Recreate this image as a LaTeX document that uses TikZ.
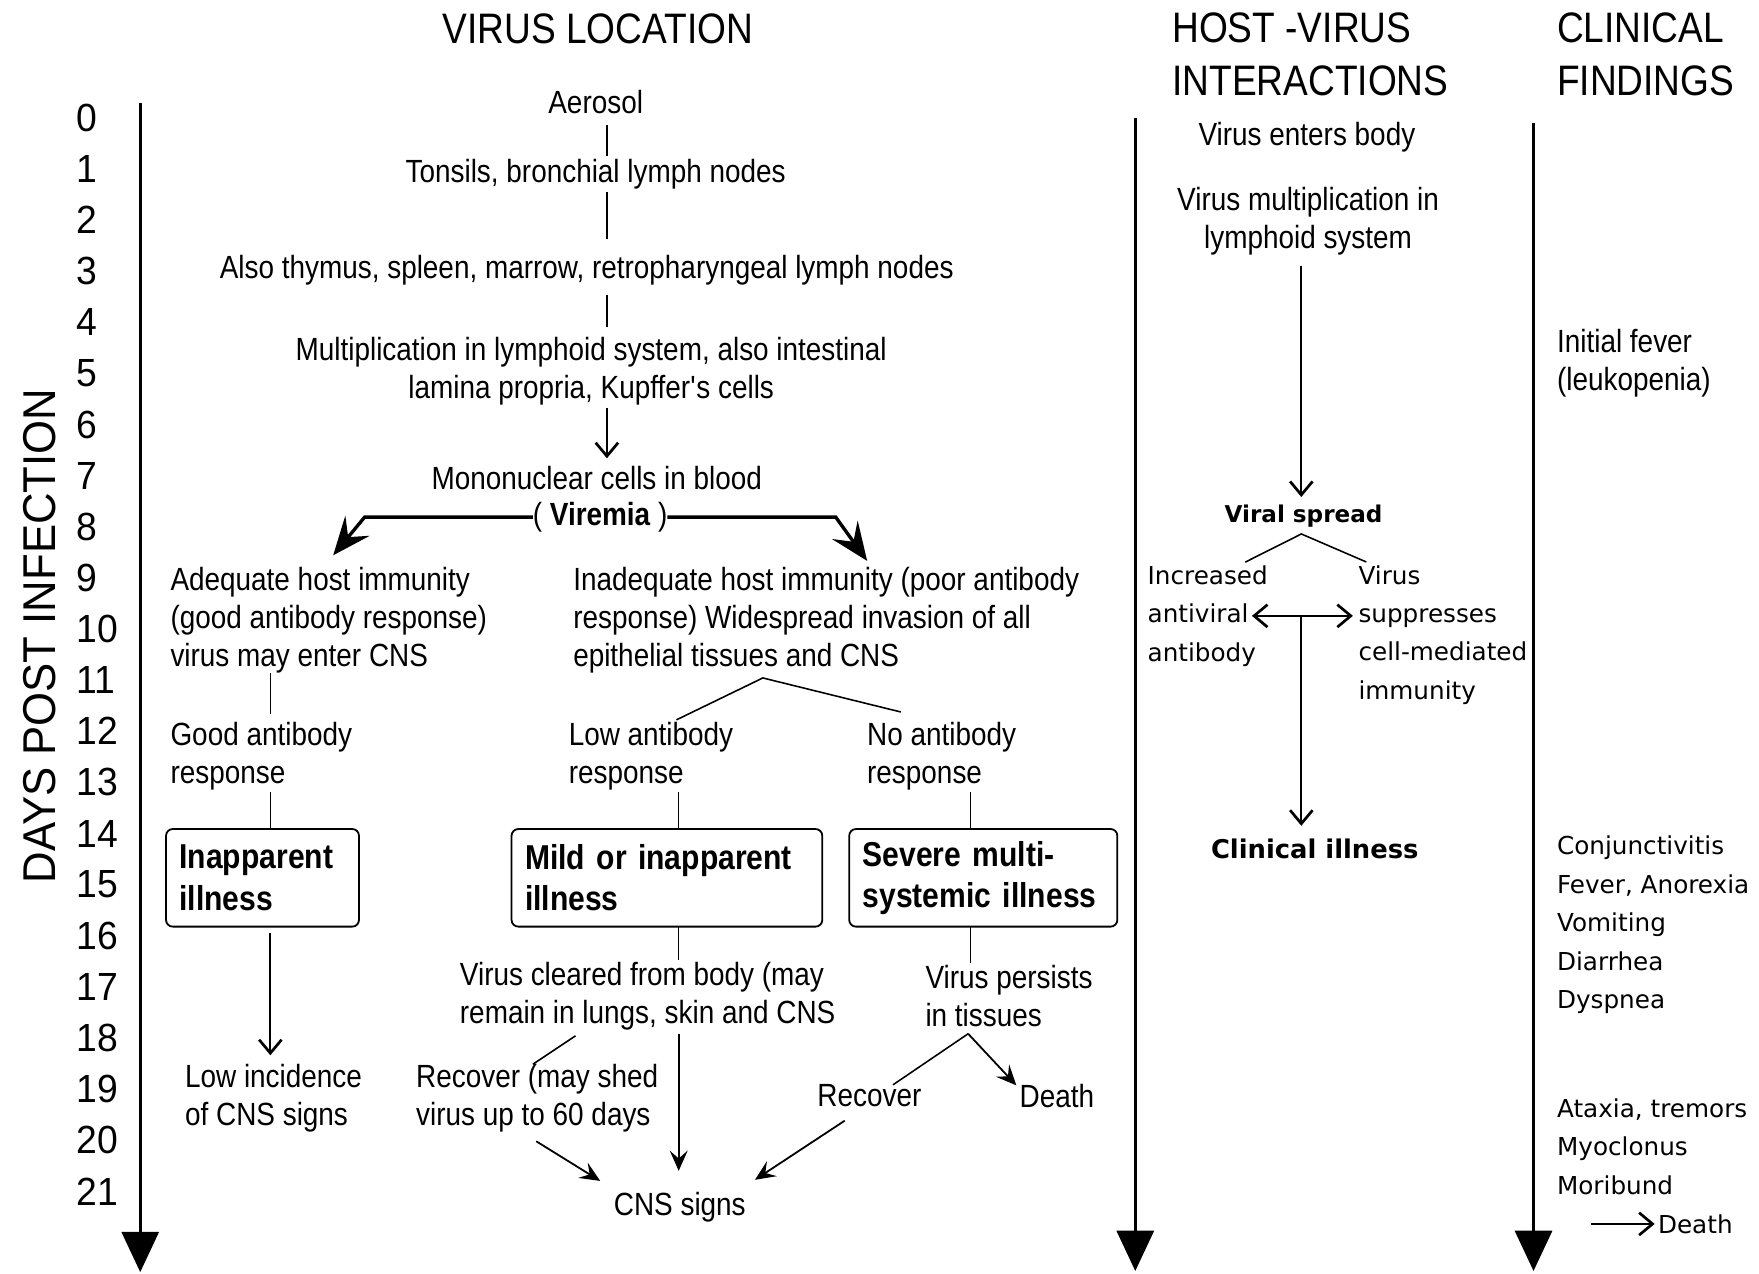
\documentclass[tikz,border=0pt]{standalone}
\usepackage{fontspec}
\setmainfont{Liberation Sans}[FakeStretch=0.87]
\newfontfamily\daysfont{Liberation Sans}[FakeStretch=0.95]
\newfontfamily\verfont{DejaVu Sans}
\usetikzlibrary{arrows.meta}
\begin{document}
\begin{tikzpicture}[x=1pt,y=-1pt,
  every node/.style={inner sep=0pt, outer sep=0pt},
  body/.style={font=\fontsize{28.6}{34}\selectfont, align=left},
  bodyc/.style={font=\fontsize{28.6}{34}\selectfont, align=center},
  title/.style={font=\fontsize{38}{47}\selectfont, align=left},
  daynum/.style={font=\daysfont\fontsize{35}{40}\selectfont, anchor=west},
  ver/.style={font=\verfont\fontsize{22}{34.25}\selectfont, align=left},
  verb/.style={font=\verfont\bfseries\fontsize{20.6}{25}\selectfont},
  boxn/.style={draw, line width=1.6pt, rounded corners=6pt, minimum height=87pt, inner xsep=12pt, align=left, font=\bfseries\fontsize{30.8}{37}\selectfont},
  ln/.style={line width=1.4pt},
  vtip/.tip={Straight Barb[length=12pt,width=20pt,line width=2.4pt]},
  openarr/.style={line width=1.6pt, -vtip},
  barbarr/.style={line width=1.6pt, -{Stealth[length=18pt,width=16pt,inset=7pt]}},
  bigarr/.style={line width=3pt, -{Stealth[length=34pt,width=28pt,inset=13pt]}},
  axisarr/.style={line width=3pt, -{Triangle[length=36pt,width=33pt]}},
]
\fill[white] (0,0) rectangle (1568,1135);
\useasboundingbox (0,0) rectangle (1568,1135);

% titles
\node[title] (t1) at (533,26) {VIRUS LOCATION};
\node[title, anchor=west] (t2) at (1045,48.5) {HOST -VIRUS\\INTERACTIONS};
\node[title, anchor=west] (t3) at (1388,48.5) {CLINICAL\\FINDINGS};

% day axis
\node[rotate=90, font=\daysfont\fontsize{41}{45}\selectfont] (dpi) at (35,567) {DAYS POST INFECTION};
\foreach \i in {0,...,21} \node[daynum] (d\i) at ({68},{105+45.57*\i}) {\i};

\coordinate (a1t) at (125,92);  \coordinate (a1b) at (125,1134);
\coordinate (a2t) at (1012,105); \coordinate (a2b) at (1012,1133);
\coordinate (a3t) at (1367,110); \coordinate (a3b) at (1367,1133);
\draw[axisarr] (a1t) -- (a1b);
\draw[axisarr] (a2t) -- (a2b);
\draw[axisarr] (a3t) -- (a3b);

% virus location column
\node[bodyc] (aer) at (531,91) {Aerosol};
\node[bodyc] (ton) at (531,155) {Tonsils, bronchial lymph nodes};
\node[bodyc] (thy) at (523,241) {Also thymus, spleen, marrow, retropharyngeal lymph nodes};
\node[bodyc] (mul) at (527,331) {Multiplication in lymphoid system, also intestinal\\lamina propria, Kupffer\textquotesingle s cells};
\node[bodyc] (mono) at (532,426) {Mononuclear cells in blood};
\node[bodyc] (vir) at (535,461) {( \textbf{Viremia} )};

\coordinate (xM) at (541,0);
\draw[ln, shorten <=10pt, shorten >=3pt] (aer.south -| xM) -- (ton.north -| xM);
\draw[ln, shorten <=3pt, shorten >=15pt] (ton.south -| xM) -- (thy.north -| xM);
\draw[ln, shorten <=9pt, shorten >=9pt] (thy.south -| xM) -- (mul.north -| xM);
\draw[openarr, shorten <=2pt, shorten >=7pt] (mul.south -| xM) -- (mono.north -| xM);

\coordinate (vl) at (325,461); \coordinate (vlt) at (297,495);
\coordinate (vr) at (745,461); \coordinate (vrt) at (773,500);
\draw[bigarr] (vir.west) -- (vl) -- (vlt);
\draw[bigarr] (vir.east) -- (vr) -- (vrt);

\node[body, anchor=west] (adq) at (152,553) {Adequate host immunity\\(good antibody response)\\virus may enter CNS};
\node[body, anchor=west] (inadq) at (511,553) {Inadequate host immunity (poor antibody\\response) Widespread invasion of all\\epithelial tissues and CNS};
\node[body, anchor=west] (good) at (152,674) {Good antibody\\response};
\node[body, anchor=west] (low) at (507,674) {Low antibody\\response};
\node[body, anchor=west] (noab) at (773,674) {No antibody\\response};
\node[boxn, text width=148pt] (b1) at (234,782.5) {Inapparent\\illness};
\node[boxn, text width=253pt] (b2) at (594.5,782.5) {Mild or inapparent\\illness};
\node[boxn, text width=215pt] (b3) at (876.5,782.5) {Severe multi-\\systemic illness};
\node[body, anchor=west] (lowi) at (165,979) {Low incidence\\of CNS signs};
\node[body, anchor=west] (clr) at (410,888) {Virus cleared from body (may\\remain in lungs, skin and CNS};
\node[body, anchor=west] (pers) at (825,888) {Virus persists\\in tissues};
\node[body, anchor=west] (rec1) at (371,979) {Recover (may shed\\virus up to 60 days};
\node[body] (rec2) at (775,977) {Recover};
\node[body, anchor=west] (dth1) at (909,977) {Death};
\node[body] (cns) at (606,1076) {CNS signs};

\coordinate (xA) at (241,0); \coordinate (xB) at (605,0); \coordinate (xC) at (865,0);
\draw[ln, shorten >=7pt] (adq.south -| xA) -- (good.north -| xA);
\draw[ln, shorten <=2pt] (good.south -| xA) -- (b1.north -| xA);
\draw[openarr, shorten <=6pt, shorten >=8pt] (b1.south -| xA) -- (lowi.north -| xA);

\coordinate (xap) at (680,0); \coordinate (xbl) at (603,0); \coordinate (xbr) at (803,0);
\draw[ln] ([yshift=2pt]low.north -| xbl) -- ([yshift=-4pt]inadq.south -| xap) -- ([yshift=9pt]noab.north -| xbr);
\draw[ln, shorten <=2pt] (low.south -| xB) -- (b2.north -| xB);
\draw[ln, shorten <=2pt] (noab.south -| xC) -- (b3.north -| xC);
\draw[ln, shorten >=2pt] (b2.south -| xB) -- (clr.north -| xB);
\draw[ln, shorten >=2pt] (b3.south -| xC) -- (pers.north -| xC);

\coordinate (xd1) at (513,0); \coordinate (xd2) at (475,0);
\draw[ln] ([yshift=-5pt]clr.south -| xd1) -- (rec1.north -| xd2);
\draw[barbarr] ([yshift=-3pt]clr.south -| xB) -- ([yshift=19pt]cns.north -| xB);
\coordinate (xr1) at (478,0); \coordinate (xr2) at (535,0);
\draw[barbarr] ([yshift=-8pt]rec1.south -| xr1) -- ([yshift=10pt]cns.north -| xr2);
\coordinate (xr3) at (753,0); \coordinate (xr4) at (673,0);
\draw[barbarr] ([yshift=-12pt]rec2.south -| xr3) -- ([yshift=11pt]cns.north -| xr4);
\coordinate (xp1) at (863,0); \coordinate (xp2) at (796,0);
\draw[ln] (rec2.north -| xp2) -- ([yshift=-6pt]pers.south -| xp1);
\draw[barbarr] ([yshift=-6pt]pers.south -| xp1) -- ([xshift=-3pt,yshift=-1pt]dth1.north west);

% host-virus column
\node[bodyc] (hv1) at (1165,122) {Virus enters body};
\node[bodyc] (hv2) at (1166,197.5) {Virus multiplication in\\lymphoid system};
\node[verb] (spread) at (1162,460) {Viral spread};
\node[ver, anchor=west] (inc) at (1023,549) {Increased\\antiviral\\antibody};
\node[ver, anchor=west] (sup) at (1211,566) {Virus\\suppresses\\cell-mediated\\immunity};
\node[font=\verfont\bfseries\fontsize{23}{28}\selectfont] (clin) at (1172,757) {Clinical illness};

\coordinate (xH) at (1160,0);
\draw[openarr, shorten <=9pt, shorten >=7pt] (hv2.south -| xH) -- (spread.north -| xH);
\coordinate (xib) at (1110,0); \coordinate (xsb) at (1218,0);
\draw[ln] ([yshift=3pt]inc.north -| xib) -- ([yshift=-6pt]spread.south -| xH) -- ([yshift=3pt]sup.north -| xsb);
\coordinate (xdl) at (1116,0);
\draw[line width=1.6pt, vtip-vtip] (inc.center -| xdl) -- ([xshift=-5pt]sup.west |- inc.center);
\draw[openarr, shorten >=12pt] (inc.center -| xH) -- (clin.north -| xH);

% clinical findings
\node[body, anchor=west] (cf1) at (1388,324) {Initial fever\\(leukopenia)};
\node[ver, anchor=west] (cf2) at (1388,824.5) {Conjunctivitis\\Fever, Anorexia\\Vomiting\\Diarrhea\\Dyspnea};
\node[ver, anchor=west] (cf3) at (1388,1022) {Ataxia, tremors\\Myoclonus\\Moribund};
\node[ver, anchor=west] (dth2) at (1478,1091) {Death};
\coordinate (ds) at (1418,1091);
\draw[openarr] (ds) -- ([xshift=-3pt]dth2.west);
\end{tikzpicture}
\end{document}
